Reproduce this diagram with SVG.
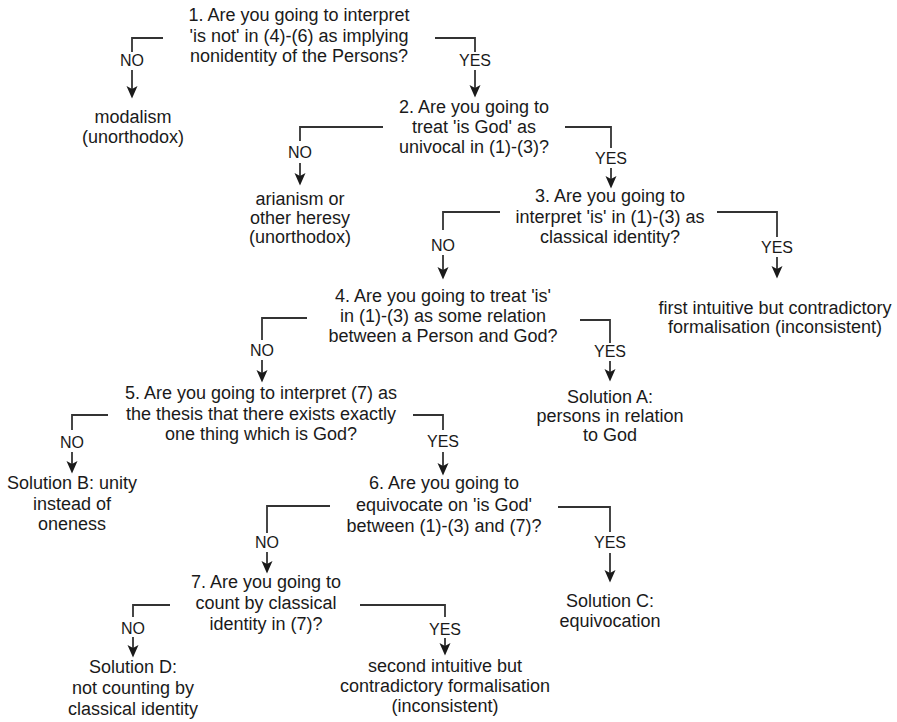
<svg xmlns="http://www.w3.org/2000/svg" width="897" height="722" viewBox="0 0 897 722">
<style>
text{font-family:"Liberation Sans",Arial,sans-serif;fill:#1a1a1a;text-anchor:middle}
.t{font-size:18px}
.l{font-size:16px}
.c{fill:none;stroke:#333;stroke-width:1.8}
</style>
<defs>
<marker id="ah" markerUnits="userSpaceOnUse" markerWidth="13" markerHeight="12" refX="6" refY="5.5" orient="auto" viewBox="0 0 13 11">
<path d="M0,0 L12.5,5.5 L0,11 L3,5.5 Z" fill="#1a1a1a"/>
</marker>
</defs>
<rect width="897" height="722" fill="#fff"/>
<g id="connectors">
<polyline class="c" points="163,38 132,38 132,52"/><text class="l" x="132" y="66">NO</text><line class="c" x1="132" y1="70" x2="132" y2="92" marker-end="url(#ah)"/>
<polyline class="c" points="435,38 475,38 475,52"/><text class="l" x="475" y="66">YES</text><line class="c" x1="475" y1="70" x2="475" y2="91" marker-end="url(#ah)"/>
<polyline class="c" points="383,127 300,127 300,141"/><text class="l" x="300" y="158">NO</text><line class="c" x1="300" y1="163" x2="300" y2="179" marker-end="url(#ah)"/>
<polyline class="c" points="565,127 611,127 611,148"/><text class="l" x="611" y="164">YES</text><line class="c" x1="611" y1="168" x2="611" y2="182" marker-end="url(#ah)"/>
<polyline class="c" points="500,212 443,212 443,230"/><text class="l" x="443" y="251">NO</text><line class="c" x1="443" y1="255" x2="443" y2="273" marker-end="url(#ah)"/>
<polyline class="c" points="717,212 777,212 777,237"/><text class="l" x="777" y="253">YES</text><line class="c" x1="777" y1="257" x2="777" y2="272" marker-end="url(#ah)"/>
<polyline class="c" points="307,318 262,318 262,340"/><text class="l" x="262" y="356">NO</text><line class="c" x1="262" y1="360" x2="262" y2="376" marker-end="url(#ah)"/>
<polyline class="c" points="580,320 610,320 610,343"/><text class="l" x="610" y="357">YES</text><line class="c" x1="610" y1="361" x2="610" y2="375" marker-end="url(#ah)"/>
<polyline class="c" points="108,415 72,415 72,430"/><text class="l" x="72" y="448">NO</text><line class="c" x1="72" y1="452" x2="72" y2="467" marker-end="url(#ah)"/>
<polyline class="c" points="413,415 443,415 443,430"/><text class="l" x="443" y="447">YES</text><line class="c" x1="443" y1="452" x2="443" y2="469" marker-end="url(#ah)"/>
<polyline class="c" points="330,506 267,506 267,533"/><text class="l" x="267" y="548">NO</text><line class="c" x1="267" y1="552" x2="267" y2="567" marker-end="url(#ah)"/>
<polyline class="c" points="558,507 610,507 610,532"/><text class="l" x="610" y="548">YES</text><line class="c" x1="610" y1="553" x2="610" y2="576" marker-end="url(#ah)"/>
<polyline class="c" points="170,605 133,605 133,617"/><text class="l" x="133" y="634">NO</text><line class="c" x1="133" y1="637" x2="133" y2="651" marker-end="url(#ah)"/>
<polyline class="c" points="360,605 445,605 445,617"/><text class="l" x="445" y="635">YES</text><line class="c" x1="445" y1="638" x2="445" y2="649" marker-end="url(#ah)"/>
</g>
<g id="q1"><text class="t" x="299" y="21">1. Are you going to interpret</text><text class="t" x="299" y="42">'is not' in (4)-(6) as implying</text><text class="t" x="299" y="62">nonidentity of the Persons?</text></g>
<g id="modalism"><text class="t" x="133" y="123">modalism</text><text class="t" x="133" y="143">(unorthodox)</text></g>
<g id="q2"><text class="t" x="474" y="113">2. Are you going to</text><text class="t" x="474" y="133">treat 'is God' as</text><text class="t" x="474" y="153">univocal in (1)-(3)?</text></g>
<g id="arianism"><text class="t" x="300" y="205">arianism or</text><text class="t" x="300" y="224">other heresy</text><text class="t" x="300" y="243">(unorthodox)</text></g>
<g id="q3"><text class="t" x="610" y="202">3. Are you going to</text><text class="t" x="610" y="222.5">interpret 'is' in (1)-(3) as</text><text class="t" x="610" y="243">classical identity?</text></g>
<g id="first"><text class="t" x="775" y="314">first intuitive but contradictory</text><text class="t" x="775" y="333">formalisation (inconsistent)</text></g>
<g id="q4"><text class="t" x="443" y="302">4. Are you going to treat 'is'</text><text class="t" x="443" y="322">in (1)-(3) as some relation</text><text class="t" x="443" y="342">between a Person and God?</text></g>
<g id="solA"><text class="t" x="610" y="403">Solution A:</text><text class="t" x="610" y="422">persons in relation</text><text class="t" x="610" y="441">to God</text></g>
<g id="q5"><text class="t" x="261" y="399">5. Are you going to interpret (7) as</text><text class="t" x="261" y="419.5">the thesis that there exists exactly</text><text class="t" x="261" y="440">one thing which is God?</text></g>
<g id="solB"><text class="t" x="72" y="489">Solution B: unity</text><text class="t" x="72" y="510">instead of</text><text class="t" x="72" y="530">oneness</text></g>
<g id="q6"><text class="t" x="444" y="489">6. Are you going to</text><text class="t" x="444" y="510.5">equivocate on 'is God'</text><text class="t" x="444" y="532">between (1)-(3) and (7)?</text></g>
<g id="solC"><text class="t" x="610" y="607">Solution C:</text><text class="t" x="610" y="627">equivocation</text></g>
<g id="q7"><text class="t" x="266" y="588">7. Are you going to</text><text class="t" x="266" y="609">count by classical</text><text class="t" x="266" y="630">identity in (7)?</text></g>
<g id="solD"><text class="t" x="133" y="673">Solution D:</text><text class="t" x="133" y="694">not counting by</text><text class="t" x="133" y="715">classical identity</text></g>
<g id="second"><text class="t" x="445" y="672">second intuitive but</text><text class="t" x="445" y="692">contradictory formalisation</text><text class="t" x="445" y="712">(inconsistent)</text></g>
</svg>
